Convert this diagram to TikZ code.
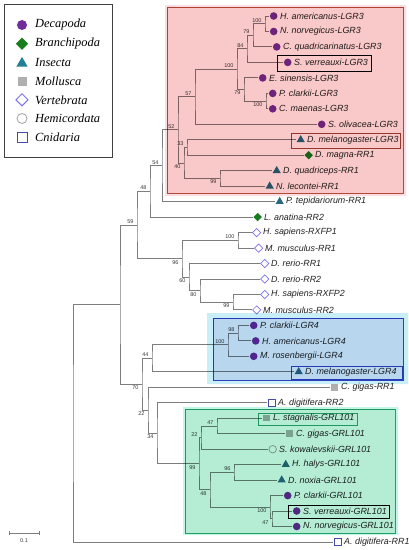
\documentclass[tikz,border=0pt]{standalone}
\usepackage{fontspec}
\newfontfamily\lsans{Liberation Sans}
\newfontfamily\lserif{Liberation Serif}
\usetikzlibrary{shapes.geometric}
\definecolor{treegray}{RGB}{125,125,125}
\definecolor{labelcol}{RGB}{35,35,35}
\definecolor{bscol}{RGB}{60,60,60}
\definecolor{decacol}{RGB}{112,45,155}
\definecolor{brancol}{RGB}{25,125,30}
\definecolor{insecol}{RGB}{40,105,130}
\definecolor{mollcol}{RGB}{175,175,175}
\definecolor{vertcol}{RGB}{125,115,230}
\definecolor{hemicol}{RGB}{165,160,160}
\definecolor{cnidcol}{RGB}{70,75,170}
\definecolor{redfill}{RGB}{249,200,200}
\definecolor{redhalo}{RGB}{252,222,226}
\definecolor{redstroke}{RGB}{180,85,65}
\definecolor{bluefill}{RGB}{184,214,238}
\definecolor{bluehalo}{RGB}{200,238,247}
\definecolor{bluestroke}{RGB}{55,70,195}
\definecolor{greenfill}{RGB}{180,236,212}
\definecolor{greenhalo}{RGB}{195,246,230}
\definecolor{greenstroke}{RGB}{45,165,115}
\newcommand\tleaf[5]{%
  \coordinate (#1) at (#2,#3);
  \node[#4] (#1m) at ([xshift=4.7pt]#1) {};
  \node[lbl] (#1t) at ([xshift=10pt]#1) {#5};}
\newcommand\bootU[2]{\node[bs, anchor=south east] (b#1) at ([xshift=-2.5pt,yshift=0.6pt]#1) {#2};}
\newcommand\bootD[2]{\node[bs, anchor=north east] (b#1) at ([xshift=-2.5pt,yshift=-0.6pt]#1) {#2};}
\begin{document}
\begin{tikzpicture}[x=1pt,y=-1pt,
  br/.style={draw=treegray, line width=0.9pt},
  lbl/.style={font=\lsans\itshape\fontsize{8.9}{10}\selectfont, text=labelcol, inner sep=1pt, anchor=west},
  bs/.style={font=\lsans\fontsize{5.5}{6}\selectfont, text=bscol, inner sep=0.8pt},
  leg/.style={font=\lserif\itshape\fontsize{12.4}{14}\selectfont, text=black, inner sep=1pt, anchor=west},
  deca/.style={circle, fill=decacol, minimum size=7.6pt, inner sep=0pt},
  bran/.style={diamond, fill=brancol, minimum size=8.5pt, inner sep=0pt},
  inse/.style={regular polygon, regular polygon sides=3, fill=insecol, minimum size=9.5pt, inner sep=0pt},
  moll/.style={rectangle, fill=mollcol, minimum size=6.5pt, inner sep=0pt},
  vert/.style={diamond, draw=vertcol, line width=0.7pt, minimum size=8.5pt, inner sep=0pt},
  hemi/.style={circle, draw=hemicol, line width=0.7pt, minimum size=7.5pt, inner sep=0pt},
  cnid/.style={rectangle, draw=cnidcol, line width=0.7pt, minimum size=7.5pt, inner sep=0pt}]
\fill[white] (0,0) rectangle (408,550);
\useasboundingbox (0,0) rectangle (408,550);

% leaves
\tleaf{l1}{269}{16}{deca}{H. americanus-LGR3}
\tleaf{l2}{269}{31.5}{deca}{N. norvegicus-LGR3}
\tleaf{l3}{272}{46.9}{deca}{C. quadricarinatus-LGR3}
\tleaf{l4}{283}{62.4}{deca}{S. verreauxi-LGR3}
\tleaf{l5}{258}{77.9}{deca}{E. sinensis-LGR3}
\tleaf{l6}{268}{93.4}{deca}{P. clarkii-LGR3}
\tleaf{l7}{268}{108.8}{deca}{C. maenas-LGR3}
\tleaf{l8}{317}{124.3}{deca}{S. olivacea-LGR3}
\tleaf{l9}{296}{139.8}{inse}{D. melanogaster-LGR3}
\tleaf{l10}{304}{155.2}{bran}{D. magna-RR1}
\tleaf{l11}{272}{170.7}{inse}{D. quadriceps-RR1}
\tleaf{l12}{265}{186.2}{inse}{N. lecontei-RR1}
\tleaf{l13}{275}{201.6}{inse}{P. tepidariorum-RR1}
\tleaf{l14}{253}{217.1}{bran}{L. anatina-RR2}
\tleaf{l15}{252}{232.6}{vert}{H. sapiens-RXFP1}
\tleaf{l16}{254}{248.1}{vert}{M. musculus-RR1}
\tleaf{l17}{260}{263.5}{vert}{D. rerio-RR1}
\tleaf{l18}{260}{279.0}{vert}{D. rerio-RR2}
\tleaf{l19}{260}{294.5}{vert}{H. sapiens-RXFP2}
\tleaf{l20}{252}{309.9}{vert}{M. musculus-RR2}
\tleaf{l21}{249}{325.4}{deca}{P. clarkii-LGR4}
\tleaf{l22}{251}{340.9}{deca}{H. americanus-LGR4}
\tleaf{l23}{249}{356.3}{deca}{M. rosenbergii-LGR4}
\tleaf{l24}{294}{371.8}{inse}{D. melanogaster-LGR4}
\tleaf{l25}{330}{387.3}{moll}{C. gigas-RR1}
\tleaf{l26}{267}{402.8}{cnid}{A. digitifera-RR2}
\tleaf{l27}{262}{418.2}{moll}{L. stagnalis-GRL101}
\tleaf{l28}{285}{433.7}{moll}{C. gigas-GRL101}
\tleaf{l29}{268}{449.2}{hemi}{S. kowalevskii-GRL101}
\tleaf{l30}{281}{464.6}{inse}{H. halys-GRL101}
\tleaf{l31}{277}{480.1}{inse}{D. noxia-GRL101}
\tleaf{l32}{283}{495.6}{deca}{P. clarkii-GRL101}
\tleaf{l33}{292}{511.0}{deca}{S. verreauxi-GRL101}
\tleaf{l34}{292}{526.5}{deca}{N. norvegicus-GRL101}
\tleaf{l35}{333}{542.0}{cnid}{A. digitifera-RR1}

% internal nodes
\coordinate (nA100) at (265,23.75);
\coordinate (nA79) at (253,35.3);
\coordinate (nA84) at (247,48.9);
\coordinate (nA100b) at (266,101.1);
\coordinate (nA79b) at (244,89.5);
\coordinate (nA100c) at (237,69.2);
\coordinate (nA57) at (195,96.8);
\coordinate (nA33) at (187,147.5);
\coordinate (nA99) at (220,178.5);
\coordinate (nA40) at (184,163);
\coordinate (nA52) at (178,129.9);
\coordinate (nA54) at (162,165.8);
\coordinate (nA48) at (150,191.4);
\coordinate (nB100) at (238,240.3);
\coordinate (nB99) at (233,302.2);
\coordinate (nB80) at (200,290.6);
\coordinate (nB60) at (189,277);
\coordinate (nB96) at (182,258.7);
\coordinate (n59) at (137,225);
\coordinate (nC98) at (238,333.1);
\coordinate (nC100) at (228,344.7);
\coordinate (nC44) at (152,358.2);
\coordinate (nD47) at (217,426);
\coordinate (nD22) at (201,437.6);
\coordinate (nD96) at (234,472.4);
\coordinate (nD47b) at (272,518.8);
\coordinate (nD100) at (270,507.2);
\coordinate (nD48) at (210,489.8);
\coordinate (nD99) at (199,463.7);
\coordinate (nE34) at (157,433.3);
\coordinate (nE22) at (148,410.3);
\coordinate (n70) at (142,384.3);
\coordinate (nTop) at (120,304.6);
\coordinate (root) at (73,423.3);

% branches
\draw[br] (l1) -| (nA100) |- (l2);
\draw[br] (nA100) -| (nA79) |- (l3);
\draw[br] (nA79) -| (nA84) |- (l4);
\draw[br] (l6) -| (nA100b) |- (l7);
\draw[br] (l5) -| (nA79b) |- (nA100b);
\draw[br] (nA84) -| (nA100c) |- (nA79b);
\draw[br] (nA100c) -| (nA57) |- (l8);
\draw[br] (l9) -| (nA33) |- (l10);
\draw[br] (l11) -| (nA99) |- (l12);
\draw[br] (nA33) -| (nA40) |- (nA99);
\draw[br] (nA57) -| (nA52) |- (nA40);
\draw[br] (nA52) -| (nA54) |- (l13);
\draw[br] (nA54) -| (nA48) |- (l14);
\draw[br] (l15) -| (nB100) |- (l16);
\draw[br] (l19) -| (nB99) |- (l20);
\draw[br] (l18) -| (nB80) |- (nB99);
\draw[br] (l17) -| (nB60) |- (nB80);
\draw[br] (nB100) -| (nB96) |- (nB60);
\draw[br] (nA48) -| (n59) |- (nB96);
\draw[br] (l21) -| (nC98) |- (l22);
\draw[br] (nC98) -| (nC100) |- (l23);
\draw[br] (nC100) -| (nC44) |- (l24);
\draw[br] (l27) -| (nD47) |- (l28);
\draw[br] (nD47) -| (nD22) |- (l29);
\draw[br] (l30) -| (nD96) |- (l31);
\draw[br] (l33) -| (nD47b) |- (l34);
\draw[br] (l32) -| (nD100) |- (nD47b);
\draw[br] (nD96) -| (nD48) |- (nD100);
\draw[br] (nD22) -| (nD99) |- (nD48);
\draw[br] (l26) -| (nE34) |- (nD99);
\draw[br] (l25) -| (nE22) |- (nE34);
\draw[br] (nC44) -| (n70) |- (nE22);
\draw[br] (n59) -| (nTop) |- (n70);
\draw[br] (nTop) -| (root) |- (l35);

% bootstrap values
\bootU{nA100}{100}
\bootU{nA79}{79}
\bootU{nA84}{84}
\bootU{nA100c}{100}
\bootD{nA79b}{79}
\bootD{nA100b}{100}
\bootU{nA57}{57}
\bootU{nA33}{33}
\bootD{nA99}{99}
\bootD{nA40}{40}
\bootU{nA52}{52}
\bootU{nA54}{54}
\bootU{nA48}{48}
\bootU{n59}{59}
\bootU{nB100}{100}
\bootD{nB96}{96}
\bootD{nB60}{60}
\bootD{nB80}{80}
\bootD{nB99}{99}
\bootU{nC98}{98}
\bootU{nC100}{100}
\bootU{nC44}{44}
\bootD{n70}{70}
\bootD{nE22}{22}
\bootD{nE34}{34}
\bootU{nD47}{47}
\bootU{nD22}{22}
\bootU{nD96}{96}
\bootD{nD99}{99}
\bootD{nD48}{48}
\bootD{nD100}{100}
\bootD{nD47b}{47}

% scale bar
\coordinate (sbA) at (9,533);
\coordinate (sbB) at (39,533);
\draw[br, line width=0.8pt] (sbA) -- (sbB);
\draw[br, line width=0.8pt] ([yshift=2.2pt]sbA) -- ([yshift=-2.2pt]sbA);
\draw[br, line width=0.8pt] ([yshift=2.2pt]sbB) -- ([yshift=-2.2pt]sbB);
\node[bs] (sbl) at (24,541) {0.1};

% legend
\draw[black!75, line width=0.9pt] (4,4) rectangle (112,157);
\node[deca, minimum size=10pt] (g1) at (22,25) {};
\node[leg] (g1t) at (34,25) {Decapoda};
\node[bran, minimum size=12.5pt] (g2) at (22,43.7) {};
\node[leg] (g2t) at (34,43.7) {Branchipoda};
\node[inse, minimum size=13pt, fill=insecol!85!cyan] (g3) at (22,63.4) {};
\node[leg] (g3t) at (34,62.4) {Insecta};
\node[moll, minimum size=9pt] (g4) at (22,81.1) {};
\node[leg] (g4t) at (34,81.1) {Mollusca};
\node[vert, minimum size=12.5pt, line width=0.9pt] (g5) at (22,99.8) {};
\node[leg] (g5t) at (34,99.8) {Vertebrata};
\node[hemi, minimum size=10pt, line width=0.8pt] (g6) at (22,118.5) {};
\node[leg] (g6t) at (34,118.5) {Hemicordata};
\node[cnid, minimum size=10pt, line width=0.9pt] (g7) at (22,137.2) {};
\node[leg] (g7t) at (34,137.2) {Cnidaria};

% clade boxes (multiplied over the tree)
\begin{scope}[blend mode=multiply]
\fill[redhalo, even odd rule] (165,5) rectangle (406,196) (167,7) rectangle (403,193);
\fill[redfill, draw=redstroke, line width=0.9pt] (167,7) rectangle (403,193);
\fill[bluehalo, even odd rule] (207,313) rectangle (408,384) (213,318) rectangle (403,380);
\fill[bluefill, draw=bluestroke, line width=1pt] (213,318) rectangle (403,380);
\fill[greenhalo, even odd rule] (183,407) rectangle (398,535) (185,409) rectangle (395,533);
\fill[greenfill, draw=greenstroke, line width=1pt] (185,409) rectangle (395,533);
\draw[black, line width=0.9pt] (277,55) rectangle (371,71);
\draw[redstroke!85!black, line width=0.9pt] (291,133) rectangle (400,148);
\draw[bluestroke, line width=0.9pt] (291,366) rectangle (402,379);
\draw[greenstroke, line width=0.9pt] (258,413) rectangle (357,425);
\draw[black, line width=0.9pt] (288,505) rectangle (389,518);
\end{scope}
\end{tikzpicture}
\end{document}
